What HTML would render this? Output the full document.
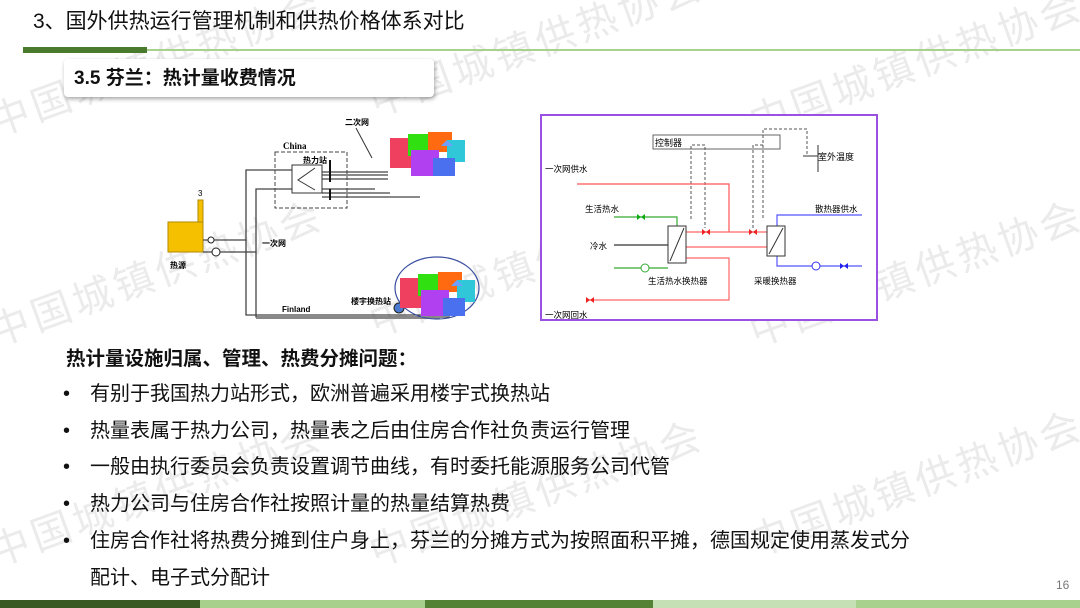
<!DOCTYPE html>
<html><head><meta charset="utf-8"><style>
body{margin:0;width:1080px;height:608px;overflow:hidden;background:#fff;position:relative;font-family:"Liberation Sans","Noto Sans CJK SC",sans-serif;color:#111}
.a{position:absolute;white-space:nowrap}
.wm{position:absolute;white-space:nowrap;color:#ebebeb;font-size:40px;transform:rotate(-20deg);transform-origin:left bottom;letter-spacing:4px}
.b{font-size:20px;line-height:20px}
</style></head><body>
<div class="wm" style="left:0;top:90px">中国城镇供热协会</div>
<div class="wm" style="left:380px;top:70px">中国城镇供热协会</div>
<div class="wm" style="left:760px;top:90px">中国城镇供热协会</div>
<div class="wm" style="left:0;top:300px">中国城镇供热协会</div>
<div class="wm" style="left:380px;top:290px">中国城镇供热协会</div>
<div class="wm" style="left:760px;top:300px">中国城镇供热协会</div>
<div class="wm" style="left:0;top:520px">中国城镇供热协会</div>
<div class="wm" style="left:380px;top:520px">中国城镇供热协会</div>
<div class="wm" style="left:760px;top:510px">中国城镇供热协会</div>

<div class="a" style="left:33px;top:10px;font-size:21px;line-height:24px">3、国外供热运行管理机制和供热价格体系对比</div>
<div class="a" style="left:147px;top:49px;width:933px;height:2px;background:#a9d18e"></div>
<div class="a" style="left:23px;top:47px;width:124px;height:6px;background:#4a7a2c"></div>
<div class="a" style="left:64px;top:59px;width:370px;height:38px;background:#fff;border-radius:4px;box-shadow:1px 2px 4px rgba(0,0,0,.35)"></div>
<div class="a" style="left:74px;top:67px;font-size:19px;font-weight:bold;line-height:24px">3.5 芬兰：热计量收费情况</div>

<svg class="a" style="left:0;top:0" width="1080" height="608" font-family="Liberation Sans,Noto Sans CJK SC,sans-serif">
<!-- left diagram -->
<rect x="168" y="222" width="35" height="30" fill="#f5c000" stroke="#b08a00"/>
<rect x="198" y="200" width="5" height="22" fill="#f5c000" stroke="#b08a00"/>
<text x="198" y="196" font-size="8">3</text>
<text x="170" y="268" font-size="8" font-weight="bold">热源</text>
<g stroke="#444" stroke-width="1.3" fill="none">
<path d="M203 240H246V170H275"/><path d="M203 252H256V189H275"/>
<path d="M246 240V315H450"/><path d="M256 252V317H450"/>
<path d="M275 170H292M322 172H388M322 175H388M322 179H388"/>
<path d="M275 189H292M322 189H375M322 193H390M322 197H420"/>
</g>
<path d="M256 318H440" stroke="#888" stroke-width="2"/>
<circle cx="211" cy="240" r="3" fill="#fff" stroke="#222"/><circle cx="216" cy="252" r="4" fill="#fff" stroke="#222"/>
<rect x="275" y="152" width="72" height="56" fill="none" stroke="#444" stroke-dasharray="4,2"/>
<text x="283" y="149" font-size="9" font-weight="bold" font-family="Liberation Serif,serif">China</text>
<text x="303" y="163" font-size="8" font-weight="bold">热力站</text>
<rect x="292" y="165" width="30" height="28" fill="#fff" stroke="#333"/>
<path d="M315 168L298 180L315 190" fill="none" stroke="#333"/>
<path d="M330 160V182M330 189V200" stroke="#111" stroke-width="2"/>
<text x="345" y="125" font-size="8" font-weight="bold">二次网</text>
<path d="M356 128L372 158" stroke="#333"/>
<text x="262" y="246" font-size="8" font-weight="bold">一次网</text>
<text x="282" y="312" font-size="8" font-weight="bold">Finland</text>
<text x="351" y="304" font-size="8" font-weight="bold">楼宇换热站</text>
<circle cx="399" cy="308" r="5" fill="#4a7bd0" stroke="#222"/>
<ellipse cx="437" cy="288" rx="42" ry="31" fill="none" stroke="#3a4fa0" stroke-width="1.2"/>
<g id="bld">
<rect x="390" y="138" width="27" height="30" fill="#f04060"/>
<rect x="408" y="134" width="22" height="22" fill="#30e010"/>
<rect x="428" y="132" width="24" height="20" fill="#ff6a10"/>
<rect x="447" y="140" width="18" height="22" fill="#30c8d8"/>
<rect x="411" y="150" width="28" height="26" fill="#b040f0"/>
<rect x="433" y="158" width="22" height="18" fill="#4a70f0"/>
<path d="M441 146l6-6l6 6z" fill="#70a0ff"/>
</g>
<use href="#bld" transform="translate(10,140)"/>
<!-- right diagram -->
<rect x="541" y="115" width="336" height="205" fill="#fff" stroke="#9a50e0" stroke-width="2"/>
<rect x="653" y="135" width="127" height="14" fill="#fff" stroke="#666"/>
<text x="655" y="146" font-size="9">控制器</text>
<g stroke="#555" stroke-dasharray="3,2" fill="none">
<path d="M691 219V145H705V228"/><path d="M753 228V145H764"/><path d="M763 218V129H807V155"/>
</g>
<path d="M803 156H818M818 145V172" stroke="#333"/>
<text x="818" y="160" font-size="9">室外温度</text>
<g font-size="8.5">
<text x="545" y="172">一次网供水</text><text x="585" y="212">生活热水</text><text x="590" y="249">冷水</text>
<text x="545" y="318">一次网回水</text><text x="815" y="212">散热器供水</text>
<text x="648" y="284">生活热水换热器</text><text x="754" y="284">采暖换热器</text>
</g>
<g fill="none" stroke-width="1.2">
<path d="M577 184H729V232" stroke="#f55"/>
<path d="M686 232H767M686 247H767M686 258H729V300H586" stroke="#f66"/>
<path d="M614 217H677V226M614 268H668" stroke="#3a3"/>
<path d="M614 245H668" stroke="#333"/>
<path d="M777 226V215H862M777 256V266H862" stroke="#55f"/>
</g>
<rect x="668" y="226" width="18" height="37" fill="#fff" stroke="#333"/><path d="M670 261L684 228" stroke="#333"/>
<rect x="767" y="226" width="18" height="30" fill="#fff" stroke="#333"/><path d="M769 254L783 228" stroke="#333"/>
<path d="M702 229v6l8-6v6zM749 229v6l8-6v6zM586 297v6l8-6v6z" fill="#e22"/>
<path d="M637 214v6l8-6v6z" fill="#1a1"/><circle cx="645" cy="268" r="4" fill="#fff" stroke="#3a3"/>
<circle cx="816" cy="266" r="4" fill="#fff" stroke="#33e"/><path d="M840 263v6l8-6v6z" fill="#22e"/>
</svg>

<div class="a" style="left:66px;top:348px;font-size:19.5px;font-weight:bold;line-height:22px">热计量设施归属、管理、热费分摊问题：</div>
<div class="a b" style="left:63px;top:384px">•</div><div class="a b" style="left:90px;top:384px">有别于我国热力站形式，欧洲普遍采用楼宇式换热站</div>
<div class="a b" style="left:63px;top:421px">•</div><div class="a b" style="left:90px;top:421px">热量表属于热力公司，热量表之后由住房合作社负责运行管理</div>
<div class="a b" style="left:63px;top:457px">•</div><div class="a b" style="left:90px;top:457px">一般由执行委员会负责设置调节曲线，有时委托能源服务公司代管</div>
<div class="a b" style="left:63px;top:494px">•</div><div class="a b" style="left:90px;top:494px">热力公司与住房合作社按照计量的热量结算热费</div>
<div class="a b" style="left:63px;top:531px">•</div><div class="a b" style="left:90px;top:531px">住房合作社将热费分摊到住户身上，芬兰的分摊方式为按照面积平摊，德国规定使用蒸发式分</div>
<div class="a b" style="left:90px;top:568px">配计、电子式分配计</div>
<div class="a" style="left:1056px;top:578px;font-size:12px;color:#777">16</div>

<div class="a" style="left:0;top:600px;width:200px;height:8px;background:#3a5a24"></div>
<div class="a" style="left:200px;top:600px;width:225px;height:8px;background:#a8d08d"></div>
<div class="a" style="left:425px;top:600px;width:228px;height:8px;background:#548235"></div>
<div class="a" style="left:653px;top:600px;width:203px;height:8px;background:#c5e0b4"></div>
<div class="a" style="left:856px;top:600px;width:224px;height:8px;background:#a9d18e"></div>
</body></html>
